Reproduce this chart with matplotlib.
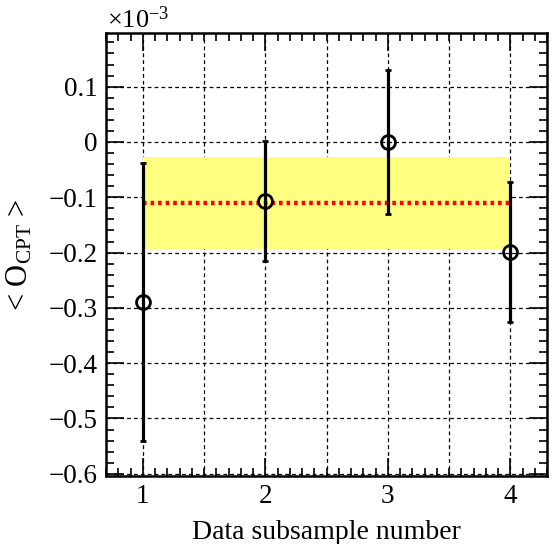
import matplotlib
matplotlib.use("Agg")
import matplotlib.pyplot as plt
from matplotlib.ticker import MultipleLocator

plt.rcParams['font.family'] = ['Liberation Serif', 'DejaVu Serif']
plt.rcParams['mathtext.fontset'] = 'custom'
plt.rcParams['mathtext.rm'] = 'Liberation Serif'
plt.rcParams['mathtext.it'] = 'Liberation Serif:italic'

subsample = [1, 2, 3, 4]
mean_ocpt = [-0.289, -0.107, 0.0, -0.199]       # x 1e-3
err_ocpt = [0.251, 0.108, 0.130, 0.126]
avg_value = -0.111
avg_low = -0.1935
avg_high = -0.028

fig = plt.figure(figsize=(5.58, 5.44), dpi=100)
ax = fig.add_axes([106/558, 1 - 476/544, (547-106)/558, (476-33)/544])

ax.fill_between([subsample[0], subsample[-1]], avg_low, avg_high,
                color='#ffff80', lw=0, zorder=1)
ax.plot([subsample[0], subsample[-1]], [avg_value, avg_value], color='red',
        lw=3.2, ls=(0, (0.8, 0.9)), zorder=2)
ax.errorbar(subsample, mean_ocpt, yerr=err_ocpt, fmt='o', mfc='none',
            mec='black', ms=10, mew=2, ecolor='black', elinewidth=2.3,
            capsize=2.5, capthick=2, color='black', zorder=3)

ax.set_xlim(0.7, 4.3)
ax.set_ylim(-0.604, 0.197)
ax.xaxis.set_major_locator(MultipleLocator(1))
ax.xaxis.set_minor_locator(MultipleLocator(0.1))
ax.yaxis.set_major_locator(MultipleLocator(0.1))
ax.yaxis.set_minor_locator(MultipleLocator(0.02))

for xv in [1, 1.5, 2, 2.5, 3, 3.5, 4]:
    ax.axvline(xv, color='black', lw=0.9, ls=(0, (3, 2.5)), zorder=0.5)
for yv in [-0.6, -0.5, -0.4, -0.3, -0.2, -0.1, 0.0, 0.1]:
    ax.axhline(yv, color='black', lw=0.9, ls=(0, (3, 2.5)), zorder=0.5)

ax.tick_params(which='both', direction='in', top=True, right=True, labelsize=19.5, width=1.2)
ax.tick_params(which='major', length=13, pad=6)
ax.tick_params(which='minor', length=6)
for s in ax.spines.values():
    s.set_linewidth(1.8)

def fmt(v, pos):
    if abs(v) < 1e-9:
        return '0'
    return ('%.1f' % v).replace('-', '\u2212')
ax.yaxis.set_major_formatter(plt.FuncFormatter(fmt))

ax.set_xlabel('Data subsample number', fontsize=20, labelpad=8)
ax.set_ylabel(r'< O$_{\mathrm{CPT}}$ >', fontsize=22, labelpad=10)
fig.text(107/558, 1 - 20/544, r'$\times10^{-3}$', fontsize=19, va='center', ha='left')

fig.savefig('out.png', dpi=100)
